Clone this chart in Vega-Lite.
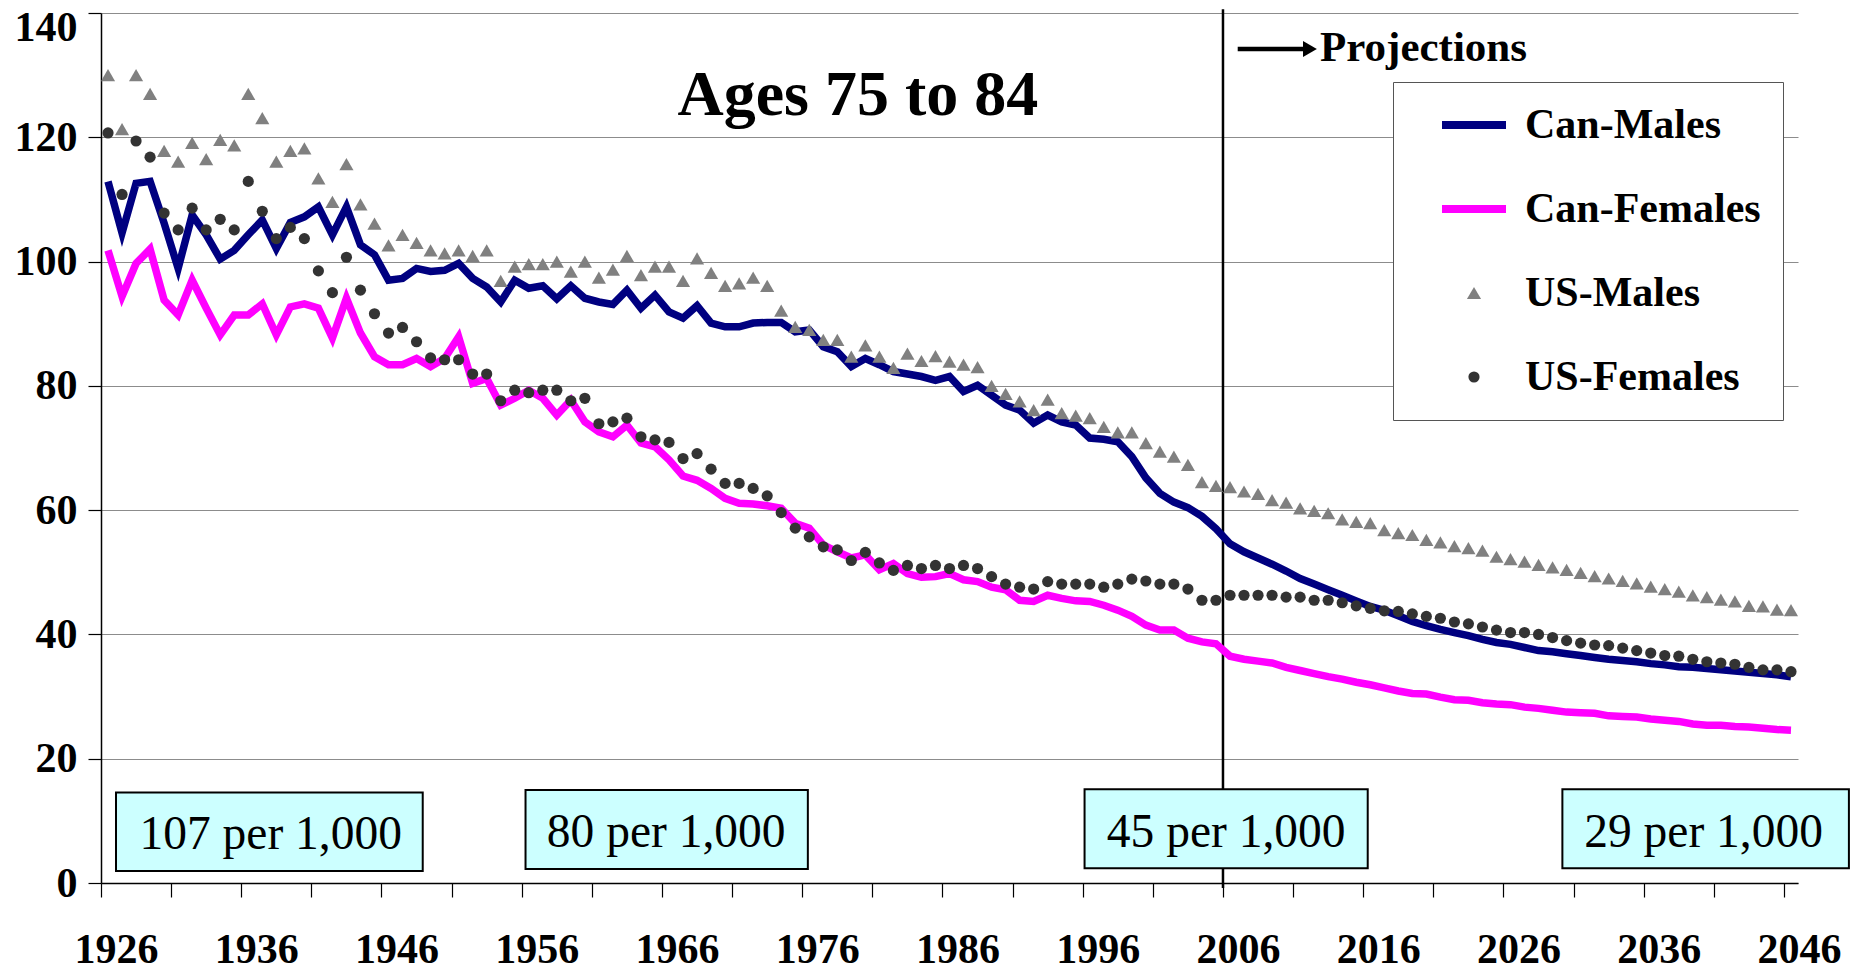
{
"$schema":"https://vega.github.io/schema/vega-lite/v6.json",
"width":1697,"height":870,
"autosize":{"type":"none"},
"padding":{"left":101,"top":13,"right":58,"bottom":88},
"background":"white",
"config":{"view":{"stroke":null},"font":"Liberation Serif"},
"datasets":{
"rates":[
{"year":1926,"series":"Can-Males","value":112.9},{"year":1927,"series":"Can-Males","value":104.6},{"year":1928,"series":"Can-Males","value":112.6},{"year":1929,"series":"Can-Males","value":112.9},{"year":1930,"series":"Can-Males","value":106.2},{"year":1931,"series":"Can-Males","value":98.9},{"year":1932,"series":"Can-Males","value":107.5},{"year":1933,"series":"Can-Males","value":104.3},{"year":1934,"series":"Can-Males","value":100.4},{"year":1935,"series":"Can-Males","value":101.8},
{"year":1936,"series":"Can-Males","value":104.3},{"year":1937,"series":"Can-Males","value":106.7},{"year":1938,"series":"Can-Males","value":102.1},{"year":1939,"series":"Can-Males","value":106.3},{"year":1940,"series":"Can-Males","value":107.2},{"year":1941,"series":"Can-Males","value":108.8},{"year":1942,"series":"Can-Males","value":104.3},{"year":1943,"series":"Can-Males","value":108.8},{"year":1944,"series":"Can-Males","value":102.7},{"year":1945,"series":"Can-Males","value":101.1},
{"year":1946,"series":"Can-Males","value":97.0},{"year":1947,"series":"Can-Males","value":97.3},{"year":1948,"series":"Can-Males","value":98.9},{"year":1949,"series":"Can-Males","value":98.4},{"year":1950,"series":"Can-Males","value":98.6},{"year":1951,"series":"Can-Males","value":99.7},{"year":1952,"series":"Can-Males","value":97.3},{"year":1953,"series":"Can-Males","value":95.9},{"year":1954,"series":"Can-Males","value":93.5},{"year":1955,"series":"Can-Males","value":97.0},
{"year":1956,"series":"Can-Males","value":95.7},{"year":1957,"series":"Can-Males","value":96.1},{"year":1958,"series":"Can-Males","value":94.0},{"year":1959,"series":"Can-Males","value":96.1},{"year":1960,"series":"Can-Males","value":94.1},{"year":1961,"series":"Can-Males","value":93.5},{"year":1962,"series":"Can-Males","value":93.1},{"year":1963,"series":"Can-Males","value":95.4},{"year":1964,"series":"Can-Males","value":92.5},{"year":1965,"series":"Can-Males","value":94.6},
{"year":1966,"series":"Can-Males","value":91.9},{"year":1967,"series":"Can-Males","value":90.9},{"year":1968,"series":"Can-Males","value":92.9},{"year":1969,"series":"Can-Males","value":90.1},{"year":1970,"series":"Can-Males","value":89.5},{"year":1971,"series":"Can-Males","value":89.5},{"year":1972,"series":"Can-Males","value":90.1},{"year":1973,"series":"Can-Males","value":90.2},{"year":1974,"series":"Can-Males","value":90.2},{"year":1975,"series":"Can-Males","value":88.7},
{"year":1976,"series":"Can-Males","value":89.0},{"year":1977,"series":"Can-Males","value":86.3},{"year":1978,"series":"Can-Males","value":85.5},{"year":1979,"series":"Can-Males","value":83.1},{"year":1980,"series":"Can-Males","value":84.4},{"year":1981,"series":"Can-Males","value":83.4},{"year":1982,"series":"Can-Males","value":82.3},{"year":1983,"series":"Can-Males","value":81.9},{"year":1984,"series":"Can-Males","value":81.5},{"year":1985,"series":"Can-Males","value":80.9},
{"year":1986,"series":"Can-Males","value":81.5},{"year":1987,"series":"Can-Males","value":79.1},{"year":1988,"series":"Can-Males","value":80.1},{"year":1989,"series":"Can-Males","value":78.5},{"year":1990,"series":"Can-Males","value":76.9},{"year":1991,"series":"Can-Males","value":76.1},{"year":1992,"series":"Can-Males","value":74.0},{"year":1993,"series":"Can-Males","value":75.3},{"year":1994,"series":"Can-Males","value":74.2},{"year":1995,"series":"Can-Males","value":73.7},
{"year":1996,"series":"Can-Males","value":71.6},{"year":1997,"series":"Can-Males","value":71.4},{"year":1998,"series":"Can-Males","value":71.0},{"year":1999,"series":"Can-Males","value":68.6},{"year":2000,"series":"Can-Males","value":65.2},{"year":2001,"series":"Can-Males","value":62.7},{"year":2002,"series":"Can-Males","value":61.3},{"year":2003,"series":"Can-Males","value":60.4},{"year":2004,"series":"Can-Males","value":59.0},{"year":2005,"series":"Can-Males","value":57.0},
{"year":2006,"series":"Can-Males","value":54.6},{"year":2007,"series":"Can-Males","value":53.3},{"year":2008,"series":"Can-Males","value":52.3},{"year":2009,"series":"Can-Males","value":51.3},{"year":2010,"series":"Can-Males","value":50.2},{"year":2011,"series":"Can-Males","value":49.0},{"year":2012,"series":"Can-Males","value":48.1},{"year":2013,"series":"Can-Males","value":47.2},{"year":2014,"series":"Can-Males","value":46.3},{"year":2015,"series":"Can-Males","value":45.4},
{"year":2016,"series":"Can-Males","value":44.5},{"year":2017,"series":"Can-Males","value":43.9},{"year":2018,"series":"Can-Males","value":43.0},{"year":2019,"series":"Can-Males","value":42.1},{"year":2020,"series":"Can-Males","value":41.4},{"year":2021,"series":"Can-Males","value":40.8},{"year":2022,"series":"Can-Males","value":40.3},{"year":2023,"series":"Can-Males","value":39.8},{"year":2024,"series":"Can-Males","value":39.2},{"year":2025,"series":"Can-Males","value":38.7},
{"year":2026,"series":"Can-Males","value":38.4},{"year":2027,"series":"Can-Males","value":37.9},{"year":2028,"series":"Can-Males","value":37.4},{"year":2029,"series":"Can-Males","value":37.2},{"year":2030,"series":"Can-Males","value":36.9},{"year":2031,"series":"Can-Males","value":36.6},{"year":2032,"series":"Can-Males","value":36.3},{"year":2033,"series":"Can-Males","value":36.0},{"year":2034,"series":"Can-Males","value":35.8},{"year":2035,"series":"Can-Males","value":35.6},
{"year":2036,"series":"Can-Males","value":35.3},{"year":2037,"series":"Can-Males","value":35.1},{"year":2038,"series":"Can-Males","value":34.8},{"year":2039,"series":"Can-Males","value":34.7},{"year":2040,"series":"Can-Males","value":34.5},{"year":2041,"series":"Can-Males","value":34.3},{"year":2042,"series":"Can-Males","value":34.1},{"year":2043,"series":"Can-Males","value":33.9},{"year":2044,"series":"Can-Males","value":33.7},{"year":2045,"series":"Can-Males","value":33.5},{"year":2046,"series":"Can-Males","value":33.2},
{"year":1926,"series":"Can-Females","value":101.8},{"year":1927,"series":"Can-Females","value":94.4},{"year":1928,"series":"Can-Females","value":99.7},{"year":1929,"series":"Can-Females","value":102.0},{"year":1930,"series":"Can-Females","value":93.8},{"year":1931,"series":"Can-Females","value":91.4},{"year":1932,"series":"Can-Females","value":97.0},{"year":1933,"series":"Can-Females","value":92.5},{"year":1934,"series":"Can-Females","value":88.2},{"year":1935,"series":"Can-Females","value":91.4},
{"year":1936,"series":"Can-Females","value":91.4},{"year":1937,"series":"Can-Females","value":93.2},{"year":1938,"series":"Can-Females","value":88.2},{"year":1939,"series":"Can-Females","value":92.7},{"year":1940,"series":"Can-Females","value":93.2},{"year":1941,"series":"Can-Females","value":92.5},{"year":1942,"series":"Can-Females","value":87.7},{"year":1943,"series":"Can-Females","value":94.1},{"year":1944,"series":"Can-Females","value":88.5},{"year":1945,"series":"Can-Females","value":84.7},
{"year":1946,"series":"Can-Females","value":83.4},{"year":1947,"series":"Can-Females","value":83.4},{"year":1948,"series":"Can-Females","value":84.4},{"year":1949,"series":"Can-Females","value":83.1},{"year":1950,"series":"Can-Females","value":84.4},{"year":1951,"series":"Can-Females","value":87.9},{"year":1952,"series":"Can-Females","value":80.4},{"year":1953,"series":"Can-Females","value":81.2},{"year":1954,"series":"Can-Females","value":76.9},{"year":1955,"series":"Can-Females","value":78.0},
{"year":1956,"series":"Can-Females","value":79.3},{"year":1957,"series":"Can-Females","value":78.0},{"year":1958,"series":"Can-Females","value":75.3},{"year":1959,"series":"Can-Females","value":77.7},{"year":1960,"series":"Can-Females","value":74.2},{"year":1961,"series":"Can-Females","value":72.6},{"year":1962,"series":"Can-Females","value":71.8},{"year":1963,"series":"Can-Females","value":73.7},{"year":1964,"series":"Can-Females","value":70.8},{"year":1965,"series":"Can-Females","value":70.2},
{"year":1966,"series":"Can-Females","value":68.1},{"year":1967,"series":"Can-Females","value":65.5},{"year":1968,"series":"Can-Females","value":64.8},{"year":1969,"series":"Can-Females","value":63.5},{"year":1970,"series":"Can-Females","value":61.9},{"year":1971,"series":"Can-Females","value":61.1},{"year":1972,"series":"Can-Females","value":61.0},{"year":1973,"series":"Can-Females","value":60.7},{"year":1974,"series":"Can-Females","value":60.3},{"year":1975,"series":"Can-Females","value":57.9},
{"year":1976,"series":"Can-Females","value":57.1},{"year":1977,"series":"Can-Females","value":54.4},{"year":1978,"series":"Can-Females","value":53.3},{"year":1979,"series":"Can-Females","value":52.3},{"year":1980,"series":"Can-Females","value":52.8},{"year":1981,"series":"Can-Females","value":50.4},{"year":1982,"series":"Can-Females","value":51.4},{"year":1983,"series":"Can-Females","value":49.8},{"year":1984,"series":"Can-Females","value":49.2},{"year":1985,"series":"Can-Females","value":49.3},
{"year":1986,"series":"Can-Females","value":49.8},{"year":1987,"series":"Can-Females","value":48.8},{"year":1988,"series":"Can-Females","value":48.5},{"year":1989,"series":"Can-Females","value":47.6},{"year":1990,"series":"Can-Females","value":47.2},{"year":1991,"series":"Can-Females","value":45.5},{"year":1992,"series":"Can-Females","value":45.3},{"year":1993,"series":"Can-Females","value":46.3},{"year":1994,"series":"Can-Females","value":45.8},{"year":1995,"series":"Can-Females","value":45.4},
{"year":1996,"series":"Can-Females","value":45.3},{"year":1997,"series":"Can-Females","value":44.7},{"year":1998,"series":"Can-Females","value":43.9},{"year":1999,"series":"Can-Females","value":42.9},{"year":2000,"series":"Can-Females","value":41.5},{"year":2001,"series":"Can-Females","value":40.7},{"year":2002,"series":"Can-Females","value":40.7},{"year":2003,"series":"Can-Females","value":39.4},{"year":2004,"series":"Can-Females","value":38.8},{"year":2005,"series":"Can-Females","value":38.5},
{"year":2006,"series":"Can-Females","value":36.5},{"year":2007,"series":"Can-Females","value":36.0},{"year":2008,"series":"Can-Females","value":35.7},{"year":2009,"series":"Can-Females","value":35.4},{"year":2010,"series":"Can-Females","value":34.7},{"year":2011,"series":"Can-Females","value":34.2},{"year":2012,"series":"Can-Females","value":33.7},{"year":2013,"series":"Can-Females","value":33.2},{"year":2014,"series":"Can-Females","value":32.8},{"year":2015,"series":"Can-Females","value":32.3},
{"year":2016,"series":"Can-Females","value":31.9},{"year":2017,"series":"Can-Females","value":31.4},{"year":2018,"series":"Can-Females","value":30.9},{"year":2019,"series":"Can-Females","value":30.5},{"year":2020,"series":"Can-Females","value":30.4},{"year":2021,"series":"Can-Females","value":29.9},{"year":2022,"series":"Can-Females","value":29.5},{"year":2023,"series":"Can-Females","value":29.4},{"year":2024,"series":"Can-Females","value":29.0},{"year":2025,"series":"Can-Females","value":28.8},
{"year":2026,"series":"Can-Females","value":28.7},{"year":2027,"series":"Can-Females","value":28.3},{"year":2028,"series":"Can-Females","value":28.1},{"year":2029,"series":"Can-Females","value":27.8},{"year":2030,"series":"Can-Females","value":27.5},{"year":2031,"series":"Can-Females","value":27.4},{"year":2032,"series":"Can-Females","value":27.3},{"year":2033,"series":"Can-Females","value":26.9},{"year":2034,"series":"Can-Females","value":26.8},{"year":2035,"series":"Can-Females","value":26.7},
{"year":2036,"series":"Can-Females","value":26.4},{"year":2037,"series":"Can-Females","value":26.2},{"year":2038,"series":"Can-Females","value":26.0},{"year":2039,"series":"Can-Females","value":25.6},{"year":2040,"series":"Can-Females","value":25.4},{"year":2041,"series":"Can-Females","value":25.4},{"year":2042,"series":"Can-Females","value":25.2},{"year":2043,"series":"Can-Females","value":25.1},{"year":2044,"series":"Can-Females","value":24.9},{"year":2045,"series":"Can-Females","value":24.7},{"year":2046,"series":"Can-Females","value":24.6},
{"year":1926,"series":"US-Males","value":130.0},{"year":1927,"series":"US-Males","value":121.3},{"year":1928,"series":"US-Males","value":130.0},{"year":1929,"series":"US-Males","value":127.0},{"year":1930,"series":"US-Males","value":117.8},{"year":1931,"series":"US-Males","value":116.1},{"year":1932,"series":"US-Males","value":119.1},{"year":1933,"series":"US-Males","value":116.5},{"year":1934,"series":"US-Males","value":119.6},{"year":1935,"series":"US-Males","value":118.7},
{"year":1936,"series":"US-Males","value":127.0},{"year":1937,"series":"US-Males","value":123.1},{"year":1938,"series":"US-Males","value":116.1},{"year":1939,"series":"US-Males","value":117.8},{"year":1940,"series":"US-Males","value":118.2},{"year":1941,"series":"US-Males","value":113.4},{"year":1942,"series":"US-Males","value":109.6},{"year":1943,"series":"US-Males","value":115.7},{"year":1944,"series":"US-Males","value":109.2},{"year":1945,"series":"US-Males","value":106.1},
{"year":1946,"series":"US-Males","value":102.6},{"year":1947,"series":"US-Males","value":104.3},{"year":1948,"series":"US-Males","value":103.0},{"year":1949,"series":"US-Males","value":101.8},{"year":1950,"series":"US-Males","value":101.3},{"year":1951,"series":"US-Males","value":101.8},{"year":1952,"series":"US-Males","value":100.9},{"year":1953,"series":"US-Males","value":101.8},{"year":1954,"series":"US-Males","value":96.9},{"year":1955,"series":"US-Males","value":99.2},
{"year":1956,"series":"US-Males","value":99.6},{"year":1957,"series":"US-Males","value":99.6},{"year":1958,"series":"US-Males","value":100.0},{"year":1959,"series":"US-Males","value":98.4},{"year":1960,"series":"US-Males","value":100.0},{"year":1961,"series":"US-Males","value":97.4},{"year":1962,"series":"US-Males","value":98.7},{"year":1963,"series":"US-Males","value":100.9},{"year":1964,"series":"US-Males","value":97.8},{"year":1965,"series":"US-Males","value":99.2},
{"year":1966,"series":"US-Males","value":99.2},{"year":1967,"series":"US-Males","value":96.9},{"year":1968,"series":"US-Males","value":100.5},{"year":1969,"series":"US-Males","value":98.2},{"year":1970,"series":"US-Males","value":96.1},{"year":1971,"series":"US-Males","value":96.5},{"year":1972,"series":"US-Males","value":97.4},{"year":1973,"series":"US-Males","value":96.1},{"year":1974,"series":"US-Males","value":92.1},{"year":1975,"series":"US-Males","value":89.5},
{"year":1976,"series":"US-Males","value":89.0},{"year":1977,"series":"US-Males","value":87.4},{"year":1978,"series":"US-Males","value":87.4},{"year":1979,"series":"US-Males","value":84.7},{"year":1980,"series":"US-Males","value":86.5},{"year":1981,"series":"US-Males","value":84.7},{"year":1982,"series":"US-Males","value":82.9},{"year":1983,"series":"US-Males","value":85.2},{"year":1984,"series":"US-Males","value":84.0},{"year":1985,"series":"US-Males","value":84.8},
{"year":1986,"series":"US-Males","value":83.9},{"year":1987,"series":"US-Males","value":83.4},{"year":1988,"series":"US-Males","value":83.0},{"year":1989,"series":"US-Males","value":80.0},{"year":1990,"series":"US-Males","value":78.7},{"year":1991,"series":"US-Males","value":77.5},{"year":1992,"series":"US-Males","value":76.1},{"year":1993,"series":"US-Males","value":77.8},{"year":1994,"series":"US-Males","value":75.6},{"year":1995,"series":"US-Males","value":75.2},
{"year":1996,"series":"US-Males","value":74.8},{"year":1997,"series":"US-Males","value":73.4},{"year":1998,"series":"US-Males","value":72.5},{"year":1999,"series":"US-Males","value":72.5},{"year":2000,"series":"US-Males","value":70.8},{"year":2001,"series":"US-Males","value":69.4},{"year":2002,"series":"US-Males","value":68.6},{"year":2003,"series":"US-Males","value":67.3},{"year":2004,"series":"US-Males","value":64.5},{"year":2005,"series":"US-Males","value":63.9},
{"year":2006,"series":"US-Males","value":63.7},{"year":2007,"series":"US-Males","value":63.0},{"year":2008,"series":"US-Males","value":62.6},{"year":2009,"series":"US-Males","value":61.6},{"year":2010,"series":"US-Males","value":61.2},{"year":2011,"series":"US-Males","value":60.3},{"year":2012,"series":"US-Males","value":59.9},{"year":2013,"series":"US-Males","value":59.5},{"year":2014,"series":"US-Males","value":58.5},{"year":2015,"series":"US-Males","value":58.1},
{"year":2016,"series":"US-Males","value":57.9},{"year":2017,"series":"US-Males","value":56.8},{"year":2018,"series":"US-Males","value":56.3},{"year":2019,"series":"US-Males","value":56.0},{"year":2020,"series":"US-Males","value":55.2},{"year":2021,"series":"US-Males","value":54.8},{"year":2022,"series":"US-Males","value":54.2},{"year":2023,"series":"US-Males","value":53.9},{"year":2024,"series":"US-Males","value":53.5},{"year":2025,"series":"US-Males","value":52.5},
{"year":2026,"series":"US-Males","value":52.1},{"year":2027,"series":"US-Males","value":51.7},{"year":2028,"series":"US-Males","value":51.2},{"year":2029,"series":"US-Males","value":50.8},{"year":2030,"series":"US-Males","value":50.4},{"year":2031,"series":"US-Males","value":49.9},{"year":2032,"series":"US-Males","value":49.4},{"year":2033,"series":"US-Males","value":49.0},{"year":2034,"series":"US-Males","value":48.6},{"year":2035,"series":"US-Males","value":48.2},
{"year":2036,"series":"US-Males","value":47.7},{"year":2037,"series":"US-Males","value":47.3},{"year":2038,"series":"US-Males","value":46.9},{"year":2039,"series":"US-Males","value":46.3},{"year":2040,"series":"US-Males","value":46.0},{"year":2041,"series":"US-Males","value":45.6},{"year":2042,"series":"US-Males","value":45.3},{"year":2043,"series":"US-Males","value":44.6},{"year":2044,"series":"US-Males","value":44.5},{"year":2045,"series":"US-Males","value":44.0},{"year":2046,"series":"US-Males","value":43.9},
{"year":1926,"series":"US-Females","value":120.7},{"year":1927,"series":"US-Females","value":110.8},{"year":1928,"series":"US-Females","value":119.4},{"year":1929,"series":"US-Females","value":116.8},{"year":1930,"series":"US-Females","value":107.8},{"year":1931,"series":"US-Females","value":105.1},{"year":1932,"series":"US-Females","value":108.6},{"year":1933,"series":"US-Females","value":105.1},{"year":1934,"series":"US-Females","value":106.8},{"year":1935,"series":"US-Females","value":105.1},
{"year":1936,"series":"US-Females","value":112.9},{"year":1937,"series":"US-Females","value":108.1},{"year":1938,"series":"US-Females","value":103.7},{"year":1939,"series":"US-Females","value":105.5},{"year":1940,"series":"US-Females","value":103.7},{"year":1941,"series":"US-Females","value":98.5},{"year":1942,"series":"US-Females","value":95.0},{"year":1943,"series":"US-Females","value":100.7},{"year":1944,"series":"US-Females","value":95.4},{"year":1945,"series":"US-Females","value":91.6},
{"year":1946,"series":"US-Females","value":88.5},{"year":1947,"series":"US-Females","value":89.4},{"year":1948,"series":"US-Females","value":87.1},{"year":1949,"series":"US-Females","value":84.5},{"year":1950,"series":"US-Females","value":84.2},{"year":1951,"series":"US-Females","value":84.2},{"year":1952,"series":"US-Females","value":81.9},{"year":1953,"series":"US-Females","value":81.9},{"year":1954,"series":"US-Females","value":77.6},{"year":1955,"series":"US-Females","value":79.3},
{"year":1956,"series":"US-Females","value":78.9},{"year":1957,"series":"US-Females","value":79.3},{"year":1958,"series":"US-Females","value":79.3},{"year":1959,"series":"US-Females","value":77.6},{"year":1960,"series":"US-Females","value":78.0},{"year":1961,"series":"US-Females","value":73.9},{"year":1962,"series":"US-Females","value":74.2},{"year":1963,"series":"US-Females","value":74.8},{"year":1964,"series":"US-Females","value":71.8},{"year":1965,"series":"US-Females","value":71.3},
{"year":1966,"series":"US-Females","value":70.9},{"year":1967,"series":"US-Females","value":68.3},{"year":1968,"series":"US-Females","value":69.1},{"year":1969,"series":"US-Females","value":66.6},{"year":1970,"series":"US-Females","value":64.3},{"year":1971,"series":"US-Females","value":64.3},{"year":1972,"series":"US-Females","value":63.5},{"year":1973,"series":"US-Females","value":62.3},{"year":1974,"series":"US-Females","value":59.6},{"year":1975,"series":"US-Females","value":57.1},
{"year":1976,"series":"US-Females","value":55.7},{"year":1977,"series":"US-Females","value":54.1},{"year":1978,"series":"US-Females","value":53.6},{"year":1979,"series":"US-Females","value":51.9},{"year":1980,"series":"US-Females","value":53.2},{"year":1981,"series":"US-Females","value":51.5},{"year":1982,"series":"US-Females","value":50.3},{"year":1983,"series":"US-Females","value":51.1},{"year":1984,"series":"US-Females","value":50.6},{"year":1985,"series":"US-Females","value":51.1},
{"year":1986,"series":"US-Females","value":50.6},{"year":1987,"series":"US-Females","value":51.1},{"year":1988,"series":"US-Females","value":50.6},{"year":1989,"series":"US-Females","value":49.3},{"year":1990,"series":"US-Females","value":48.1},{"year":1991,"series":"US-Females","value":47.6},{"year":1992,"series":"US-Females","value":47.3},{"year":1993,"series":"US-Females","value":48.5},{"year":1994,"series":"US-Females","value":48.1},{"year":1995,"series":"US-Females","value":48.1},
{"year":1996,"series":"US-Females","value":48.1},{"year":1997,"series":"US-Females","value":47.6},{"year":1998,"series":"US-Females","value":48.1},{"year":1999,"series":"US-Females","value":48.9},{"year":2000,"series":"US-Females","value":48.6},{"year":2001,"series":"US-Females","value":48.1},{"year":2002,"series":"US-Females","value":48.1},{"year":2003,"series":"US-Females","value":47.3},{"year":2004,"series":"US-Females","value":45.5},{"year":2005,"series":"US-Females","value":45.5},
{"year":2006,"series":"US-Females","value":46.3},{"year":2007,"series":"US-Females","value":46.3},{"year":2008,"series":"US-Females","value":46.3},{"year":2009,"series":"US-Females","value":46.3},{"year":2010,"series":"US-Females","value":46.0},{"year":2011,"series":"US-Females","value":46.0},{"year":2012,"series":"US-Females","value":45.5},{"year":2013,"series":"US-Females","value":45.5},{"year":2014,"series":"US-Females","value":45.1},{"year":2015,"series":"US-Females","value":44.6},
{"year":2016,"series":"US-Females","value":44.2},{"year":2017,"series":"US-Females","value":43.8},{"year":2018,"series":"US-Females","value":43.7},{"year":2019,"series":"US-Females","value":43.3},{"year":2020,"series":"US-Females","value":42.9},{"year":2021,"series":"US-Females","value":42.6},{"year":2022,"series":"US-Females","value":42.0},{"year":2023,"series":"US-Females","value":41.7},{"year":2024,"series":"US-Females","value":41.2},{"year":2025,"series":"US-Females","value":40.7},
{"year":2026,"series":"US-Females","value":40.3},{"year":2027,"series":"US-Females","value":40.3},{"year":2028,"series":"US-Females","value":40.0},{"year":2029,"series":"US-Females","value":39.5},{"year":2030,"series":"US-Females","value":39.0},{"year":2031,"series":"US-Females","value":38.6},{"year":2032,"series":"US-Females","value":38.3},{"year":2033,"series":"US-Females","value":38.2},{"year":2034,"series":"US-Females","value":37.8},{"year":2035,"series":"US-Females","value":37.4},
{"year":2036,"series":"US-Females","value":37.0},{"year":2037,"series":"US-Females","value":36.6},{"year":2038,"series":"US-Females","value":36.5},{"year":2039,"series":"US-Females","value":36.0},{"year":2040,"series":"US-Females","value":35.6},{"year":2041,"series":"US-Females","value":35.4},{"year":2042,"series":"US-Females","value":35.2},{"year":2043,"series":"US-Females","value":34.7},{"year":2044,"series":"US-Females","value":34.3},{"year":2045,"series":"US-Females","value":34.3},{"year":2046,"series":"US-Females","value":34.0}
],
"proj":[{"year":2005.5,"value":140.6,"value2":-0.8}],
"arrow":[{"year":2006.55,"year2":2011.3,"value":134.2}],
"arrowhead":[{"year":2011.7,"value":134.2}],
"projtext":[{"year":2012.42,"value":132.3,"label":"Projections"}],
"title":[{"year":1979.47,"value":123.6,"label":"Ages 75 to 84"}],
"boxes":[{"year":1926.57,"year2":1948.44,"value":1.93,"value2":14.58},{"year":1955.77,"year2":1975.9,"value":2.25,"value2":14.97},{"year":1995.63,"year2":2015.82,"value":2.37,"value2":15.08},{"year":2029.7,"year2":2050.13,"value":2.37,"value2":15.08}],
"boxtext":[{"year":1937.6,"value":5.4,"label":"107 per 1,000"},{"year":1965.8,"value":5.8,"label":"80 per 1,000"},{"year":2005.73,"value":5.8,"label":"45 per 1,000"},{"year":2039.77,"value":5.8,"label":"29 per 1,000"}]
},
"encoding":{
"x":{"field":"year","type":"quantitative","scale":{"domain":[1925.5,2046.5],"nice":false,"zero":false},
 "axis":{"title":null,"values":[1925.5,1930.5,1935.5,1940.5,1945.5,1950.5,1955.5,1960.5,1965.5,1970.5,1975.5,1980.5,1985.5,1990.5,1995.5,2000.5,2005.5,2010.5,2015.5,2020.5,2025.5,2030.5,2035.5,2040.5,2045.5],
 "labelExpr":"(datum.value - 1925.5) % 10 == 0 ? toString(datum.value + 0.5) : ''",
 "grid":false,"tickSize":14,"tickColor":"black","tickWidth":1.2,"domainColor":"black","domainWidth":1.5,
 "labelFont":"Liberation Serif","labelFontSize":42,"labelFontWeight":"bold","labelColor":"black","labelPadding":32,"labelOffset":15,"labelFlush":false,"labelOverlap":false,"labelBound":false}},
"y":{"field":"value","type":"quantitative","scale":{"domain":[0,140],"nice":false},
 "axis":{"title":null,"values":[0,20,40,60,80,100,120,140],"grid":true,"gridColor":"#8c8c8c","gridWidth":1.2,
 "tickSize":13,"tickColor":"black","tickWidth":1.2,"domainColor":"black","domainWidth":1.5,
 "labelFont":"Liberation Serif","labelFontSize":42,"labelFontWeight":"bold","labelColor":"black","labelPadding":11,"labelFlush":false,
 "labelBaseline":"middle",
 "labelOffset":{"condition":{"test":"datum.value == 140","value":14},"value":0}}}
},
"layer":[
{"data":{"name":"proj"},"mark":{"type":"rule","color":"black","strokeWidth":2.5},"encoding":{"y2":{"field":"value2"}}},
{"data":{"name":"rates"},"transform":[{"filter":"datum.series == 'Can-Males' || datum.series == 'Can-Females'"}],
 "mark":{"type":"line","strokeWidth":7.5},
 "encoding":{"color":{"field":"series","type":"nominal",
  "scale":{"domain":["Can-Males","Can-Females","US-Males","US-Females"],"range":["#000080","#ff00ff","#808080","#333333"]},
  "legend":{"orient":"none","legendX":1292,"legendY":69,"title":null,"padding":22,"strokeColor":"#555555","fillColor":"white",
   "labelFont":"Liberation Serif","labelFontSize":42,"labelFontWeight":"bold","labelColor":"black","labelLimit":400,
   "rowPadding":42,"symbolOffset":38,"labelOffset":30,"symbolSize":150,"symbolStrokeWidth":1.5,
   "encode":{"symbols":{"update":{
    "shape":{"signal":"datum.value == 'US-Males' ? 'triangle-up' : (datum.value == 'US-Females' ? 'circle' : 'stroke')"},
    "size":{"signal":"datum.value == 'US-Males' ? 200 : (datum.value == 'US-Females' ? 125 : 4096)"},
    "strokeWidth":{"signal":"datum.value == 'US-Males' || datum.value == 'US-Females' ? 0 : 8"},
    "stroke":{"scale":"color","field":"value"},
    "fill":{"scale":"color","field":"value"},
    "opacity":{"value":1}}}}}}}},
{"data":{"name":"rates"},"transform":[{"filter":"datum.series == 'US-Males'"}],
 "mark":{"type":"point","shape":"triangle-up","filled":true,"size":200,"opacity":1,"strokeWidth":0},
 "encoding":{"color":{"field":"series","type":"nominal"}}},
{"data":{"name":"rates"},"transform":[{"filter":"datum.series == 'US-Females'"}],
 "mark":{"type":"point","shape":"circle","filled":true,"size":125,"opacity":1,"strokeWidth":0},
 "encoding":{"color":{"field":"series","type":"nominal"}}},
{"data":{"name":"boxes"},"mark":{"type":"rect","fill":"#ccffff","stroke":"black","strokeWidth":2},
 "encoding":{"x2":{"field":"year2"},"y2":{"field":"value2"}}},
{"data":{"name":"boxtext"},"mark":{"type":"text","font":"Liberation Serif","fontSize":47.5,"align":"center","baseline":"alphabetic","color":"black"},
 "encoding":{"text":{"field":"label"}}},
{"data":{"name":"title"},"mark":{"type":"text","font":"Liberation Serif","fontSize":64,"fontWeight":"bold","align":"center","baseline":"alphabetic","color":"black"},
 "encoding":{"text":{"field":"label"}}},
{"data":{"name":"arrow"},"mark":{"type":"rule","color":"black","strokeWidth":4.5},"encoding":{"x2":{"field":"year2"}}},
{"data":{"name":"arrowhead"},"mark":{"type":"point","shape":"triangle-right","filled":true,"size":256,"color":"black","opacity":1,"strokeWidth":0}},
{"data":{"name":"projtext"},"mark":{"type":"text","font":"Liberation Serif","fontSize":43,"fontWeight":"bold","align":"left","baseline":"alphabetic","color":"black"},
 "encoding":{"text":{"field":"label"}}}
]
}
